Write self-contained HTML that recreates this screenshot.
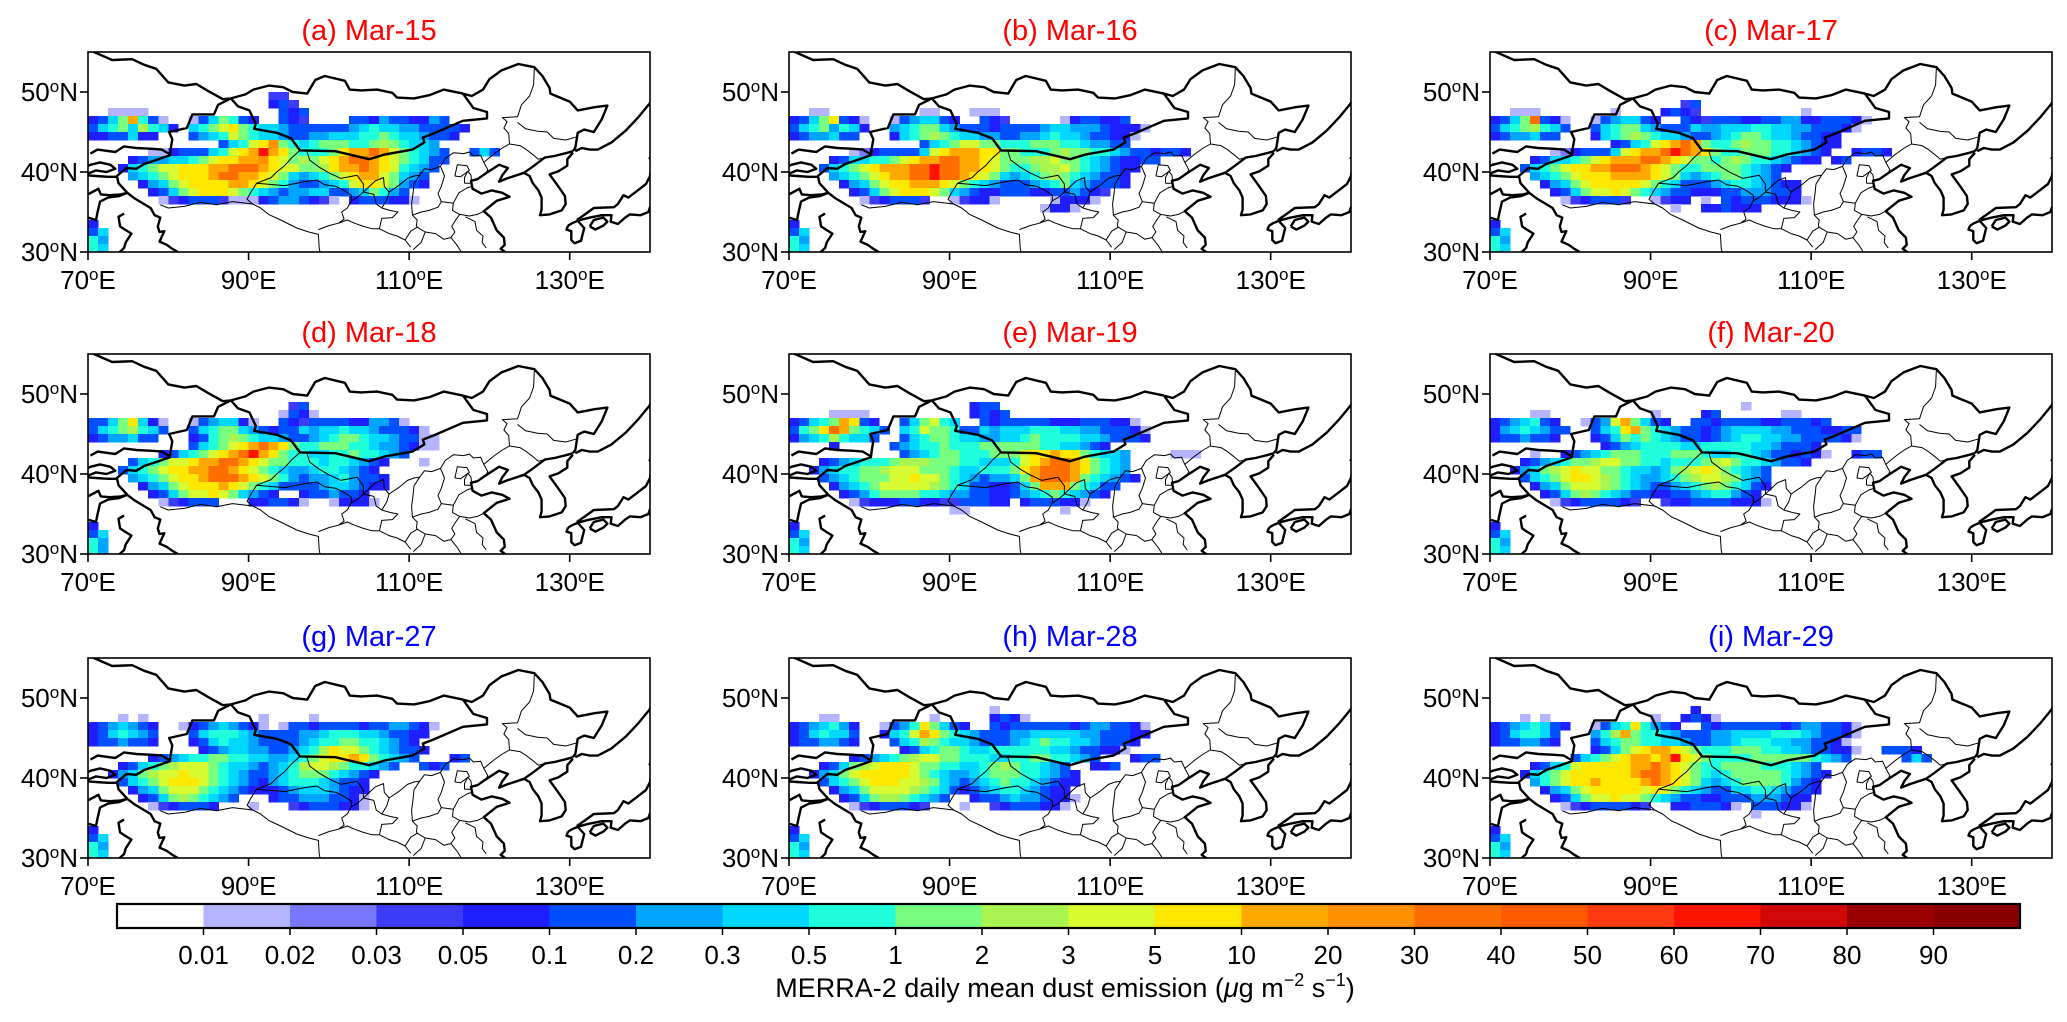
<!DOCTYPE html>
<html><head><meta charset="utf-8"><title>MERRA-2 dust emission</title>
<style>
html,body{margin:0;padding:0;background:#fff;}
svg{display:block;font-family:"Liberation Sans",sans-serif;}
</style></head>
<body>
<svg id="fig" xmlns="http://www.w3.org/2000/svg" width="2067" height="1022" viewBox="0 0 2067 1022">
<rect x="0" y="0" width="2067" height="1022" fill="#fff"/>
<g id="panels"></g>
<g id="cbar"></g>
<text x="1065" y="997" font-size="27" text-anchor="middle">MERRA-2 daily mean dust emission (<tspan font-style="italic">μ</tspan>g m<tspan dy="-11" font-size="18">−2</tspan><tspan dy="11"> s</tspan><tspan dy="-11" font-size="18">−1</tspan><tspan dy="11">)</tspan></text>
</svg>
<script>
// ---------- data ----------
const panelTitles = ["(a) Mar-15","(b) Mar-16","(c) Mar-17","(d) Mar-18","(e) Mar-19","(f) Mar-20","(g) Mar-27","(h) Mar-28","(i) Mar-29"];
const titleColors = ["#ff0000","#ff0000","#ff0000","#ff0000","#ff0000","#ff0000","#0000ff","#0000ff","#0000ff"];
const cbLabels = ["0.01","0.02","0.03","0.05","0.1","0.2","0.3","0.5","1","2","3","5","10","20","30","40","50","60","70","80","90"];
const levelColors = ["#ffffff","#b4b4ff","#7878ff","#3c3cf5","#1e1eff","#0050ff","#00a5ff","#00d8ff","#20ffdc","#78ff80","#aaf550","#d8fa30","#ffe800","#ffa800","#ff9000","#ff6e00","#ff5a00","#ff3a10","#ff1200","#d00808","#9a0000","#8a0000"];
const levelKeys = ".123456789abcdefghijkl";
const latTicks = [30,40,50];
const lonTicks = [70,90,110,130];
// grid: rows lat 50-49 downward (1 deg), columns lon from 70E (1.25 deg)
const gridA = ["..................33","..................453","..1111.............545","4579d851..1579854..543....5546554465","57897a874.789bc98776555555678776655554","4455744...5678b9877655667778898776554",".............578bce9878999889a98776","......11455578bcdidc98889cddfdb98765..575.","....45667789bccddecb9a9bcdffdcb98755","...4789bbcccddfffdcbb99acddfdcb8765","....6789bcccdffddcb976789bcddb9765",".....4679bccccddcb98655678bccb9654","......4579bcccb98765667755679865",".......134555311145665431.4555441","","","4","57","86","87"];
const gridB = ["","","..11.........11...111","4579c541..1567754..543.....1455445","57896874..67899765554555567766654441","4566755...4789a98776655667877655441",".............5789bb998889998876655","......12455557bcdddcc998889a998876554554","....4577889bcddffddcb999aab9987654455","...5789bcdddffiffddcb9889aab9876544","....6789bcddffiffdcb976789a9876554",".....4679bccdddcb98765556789765554","......4579bcccb97654455544556543",".......1345553..13441.....14441",".........................1441","","4","57","86","87"];
const gridC = ["","...................35","..111.......1....4543..........1","4579f541..1567754..5435554455664455541","5789a875..578997655576677788776655541","4566755...4789a98776556789987765544","............4578bcdfd9889a998876544","......1245557bcddfifdc988999887654..4554","....457789bcdddffdcb9989a98876544.45","...5789bccddfffdcb988999987654","....6789bcccddddcb97678998765",".....4679bcccccb987555678876544","......4579bbcb98765544455666554",".......1345553..1344.1.545554441","..................1..445444","","4","57","86","87"];
const gridD = ["","....................35","...................1541","5579c741..1567741..5435555446651","5789a875..578997654557677877655541","4566755...4589a98776556789987765511","..........5789bcdfdc988999887665411",".......45789bcdfidc9887788988765","....5789bbcddffdcb998887887654...1","...5789bccddffdcb987667887654","....6789bccdfffdcb986566786554",".....4679bcccdcb98755556776544","......4579bbcb97654..4556554",".......134555...445541..14441","","","4","57","86","86"];
const gridE = ["","..................455","....1111..........4545","45789dc54..579b87..5455555444555441","589cfd9875.78b9985576777888776655541","4678a8775..5789987766778988887765554","....4.....5678898889999998877654","...........567899888999bccdcc98776....111","...45678889aaa999887778bcdffdc9876","..4678899abbb9998778889cdfffdc9876","...5678999bbcbb987656679dfffd987654","....46789bbbbba9875544579ddd98755",".....456899998876655445678987654","......1344455443355544.4555441","................11.........1","","4","57","86","87"];
const gridF = ["",".........................1","....11..........1....45......11","4567854..156bd9754..55455554455545","46787655..578cd9876554567777665554455","4556554...457989876554567887766555541","...........4567888877888887765554","....1..456789998889998778876554541..455","...4567899abb998878889ab98876554","..4679abcbb99877679abcb98765","...5789bccba98766789abba9765","....4679bbba9876556789a98754",".....4579a98765544556788654","......134555543..34455554441","","","4","57","86","87"];
const gridG = ["","","...1.1...........1....1","4567654..145676541.1554555545566541","4578765...578887655556678887765544","4556554...45787765555678899887654","...........456776655678acbb9876554","......45678899887766789bccdc98765...45","...45789abbb987765678abba988765..545","..4679abbcbb98765567899987654","...5789bcccb9876546788876554","....4679bbb98765444567776544",".....4579a98765...4556665541","......1345554...1...34555441","","","4","57","86","87"];
const gridH = ["","....................1","...11.........1.....4541","4567864..1568c9754..5455555545665541","4578775..478bdc987655566777776655544","4556654...578a987765556789887765554","...........45789987788888877655441","......456789abb9988877889988765...455","...4579abcccb99887789a988765..445","..4679bcccccb9876678999887654","...5789bcccbba976567898876544","....4679bbbba987545678876544",".....4579aa98765..45567665441","......13455543...1..34555441","","","4","57","86","87"];
const gridI = ["","....................4","...1.1..........1..4541","45678754..1578c8654..5455555545665541","4578875...68ad98876555667777888765541","4556654...57899887765566788877665541","..........4579bcddcb98889998877655441..5554","........5789bcddcdicb988889999998765.....575","....4578bcccccddfdcb9889999888765","...4789bccccccdffdcb98789999987654","....689bccdccccdfdcb9767899998654",".....4679bcccccbcb987655778876554","......4579bbcbb98765544555666544",".......134555543..4455541.555441","..........................1","","4","57","86","87"];
const grids = [gridA,gridB,gridC,gridD,gridE,gridF,gridG,gridH,gridI];

// ---------- map geometry (lon,lat) ----------
const thickLines = [
 [[69,55.3],[70.5,55.1],[73,54],[75.5,54.1],[77,53.4],[78.5,52.9],[80,51.2],[82,50.8],[83.5,51],[85,50.1],[86.8,49.1],[87.8,49.2]],
 [[87.8,49.2],[89.6,49.7],[90.6,50.3],[92.5,50.8],[94.3,50.6],[95.5,50],[97.3,49.8],[98.3,51.5],[99.5,52],[102,51.4],[102.6,50.3],[104,50.2],[106,50.3],[107.9,49.9],[108.5,49.3],[110.6,49.2],[112.5,49.6],[114.3,50.3],[116.7,49.8]],
 [[116.7,49.8],[117.8,49.5],[119.2,50.3],[120,51.6],[121.5,52.7],[123.6,53.5],[125.6,53.1],[126.6,52],[127.5,50.5],[127.6,49.8],[130,48.8],[131,47.7],[133.1,48.1],[134.7,48.3],[134,46.6],[133,45],[131.8,45.3],[131,44.9],[130.7,43],[130.4,42.6]],
 [[130.4,42.6],[129.7,42.4],[128.1,42],[126.9,41.8],[125.3,40.6],[124.3,39.9]],
 [[87.8,49.2],[86.2,48.4],[85.7,47.2],[83,47.2],[82.3,45.5],[80.1,45],[80.5,44.1],[80.3,42.9],[80.2,42.1],[78.5,41.5],[77,41],[76,40.4],[74.8,40.5],[73.6,39.5],[73.8,38.6],[74.9,37.4],[75.8,36.7],[77.8,35.5],[78.3,34.6],[79,34.3],[78.7,33.2],[78.9,32.5],[79.5,32.6],[78.9,31.3],[79.8,30.9],[80.5,30.4],[81.2,30]],
 [[87.8,49.2],[88.7,48.2],[90.1,47.7],[90.9,46],[90.7,45.4],[93.5,44.9],[95.3,44.2],[96.4,42.7],[100.8,42.6],[105,41.6],[107,42.2],[110.4,42.8],[111.9,43.7],[111.7,44.3],[113,44.8],[116.7,46.4],[119.7,46.7],[119.7,47.5],[118,48],[116.7,49.8]],
 [[70.3,42.3],[71.2,42.8],[73.4,42.5],[74.5,43.2],[76,43],[78,42.9],[79.2,42.8],[80.2,42.2]],
 [[69,40.3],[70.3,40.9],[71.5,41.2],[72.8,40.9],[73.4,40.4],[72.3,40],[71,40.2],[70.5,40],[69.5,39.6],[71,39.5],[72.5,39.4],[73.6,39.4]],
 [[69,37.2],[70,37.2],[71.3,37.9],[71.6,37.2],[72.7,37.1],[74.1,37.2],[74.9,37.4]],
 [[69,34],[70,34.3],[71,34],[71.2,35],[71.5,36.3],[72.5,36.8],[73.9,37],[74.9,37.4]],
 [[74.5,34.8],[73.8,34.4],[74,33.2],[74.6,32.8],[75.4,32.3],[74.7,31.2],[74.5,30.5],[73.4,29.5]],
 [[124.3,39.9],[125,39.5],[125.4,38.6],[126.1,37.7],[126.5,36.8],[126.5,35.3],[126.3,34.6],[127.5,34.7],[129,35.2],[129.5,36],[129.4,37],[128.5,38.3],[127.5,39.7],[128.6,40.1],[129.7,40.8],[129.7,41.6],[130.4,42.4]],
 [[124.3,39.9],[122.2,39.2],[121.2,38.8],[121.6,39.6],[122.3,40.5],[121.2,40.9],[119.5,39.8],[118.5,39.1],[117.7,38.9],[117.9,37.9],[119,37.3],[120.3,37.7],[121.6,37.4],[122.5,36.9],[120.9,36.4],[119.3,35.1],[120.2,34.3],[120.9,32.7],[121.8,31.8],[121.9,30.9],[121.4,30.4],[122.1,29.9],[121.7,29]],
 [[130.7,42.6],[131.5,43],[132.5,42.8],[133.5,42.8],[135.2,43.7],[137,45.2],[138.5,46.8],[139.9,48.5],[140.5,49.5]],
 [[130.9,34],[131.9,34.7],[133,35.5],[135.5,35.6],[136,36],[136.7,37.1],[137.3,36.8],[138.6,37.8],[139.5,38.5],[140,39.5],[140.2,41]],
 [[130.9,33.9],[132.5,34.3],[134,34.6],[135.2,34.6],[135.1,33.8],[136,33.5],[136.9,34.3],[137.5,34.7],[138.8,34.6],[139.8,35],[140,35.6],[140.8,35.7]],
 [[129.8,33.3],[130.3,33.6],[131,33.9],[131.8,33],[131.4,31.4],[130.6,31.1],[130.2,31.5],[130.2,32.6],[129.6,32.8],[129.8,33.3]],
 [[132.5,33.2],[133,34],[134.2,34.3],[134.7,33.8],[134.2,33.3],[133.2,32.8],[132.5,33.2]],
 [[139.9,41.6],[140.3,42.3],[140.8,42.6]]
];
const thinLines = [
 [[96.4,42.7],[95.3,41.7],[94.5,40.8],[93.5,40],[92.8,39.3],[91,38.6],[90.3,37.5],[89.8,36.6],[90.5,36]],
 [[90.5,36],[88,36.3],[86,35.9],[84,36.2],[82,35.7],[80,35.5],[79,35.9]],
 [[91,38.6],[94.5,38.3],[97,38.8],[98.5,39],[99.5,38.4],[100.9,38.2],[101.9,37.7],[102.8,37.1],[102.8,36.4],[102.3,35.5],[101.6,35],[101.9,34.1],[101.2,33.6]],
 [[90.5,36],[91.5,35.5],[92.5,34.7],[94,34],[96,33],[97.5,32.5],[98.7,32.2],[98.8,30.5],[99,29.5]],
 [[98.7,32.8],[100,33.3],[101.2,33.6],[102.3,34],[103.2,33.6],[104.3,33.2],[105.4,32.9],[106.3,32.9],[107.5,32.3],[108.5,32],[109.5,31.5],[110.2,30.6]],
 [[97.2,42.8],[97.6,41.5],[98.8,40.6],[100,39.9],[101.5,39.2],[103.5,39.6],[104.3,38.5],[104.3,37.5],[105.8,38.9],[106.8,39.3],[106.9,38.2],[107.5,37.5],[108.7,38.3],[109.8,39.2],[110.6,39.5],[111.3,39.6],[111.9,40.4],[112.8,40.3],[113.9,40.7],[114.5,41.7],[115.5,42.4],[116.8,42.3],[117.5,42.5],[118,42],[118.9,42.1],[119.3,41.2],[120.5,42.2],[121.6,43],[122.5,43.5],[122.4,44.8],[121.8,45.5],[122.2,46.3],[121.6,46.8],[123.5,46.9],[124,48.4],[125,49.5],[125.5,50.9],[125.6,53.1]],
 [[104.3,37.5],[105.6,37.2],[105.9,36],[106.6,35.5],[107.6,35.2],[108.6,35],[107.9,34.3],[106.6,34.2],[106.3,32.9]],
 [[107.5,37.5],[107.2,36.5],[106.6,35.5]],
 [[111.3,39.6],[110.6,38.5],[110.5,37.5],[110.3,36],[110.4,34.6],[111,34],[110.9,33.3],[111,33.1],[110.2,32.6],[109.5,31.5]],
 [[110.4,34.6],[111.5,35],[112.5,35.2],[113.6,35.6],[114,36.3],[113.6,37.3],[114,38.2],[114.4,39.5],[113.9,40.7]],
 [[114,36.3],[115.5,36.1],[116.2,37.4],[117.2,38],[117.8,38.2]],
 [[115.5,36.1],[115.4,35.2],[116.3,34.7],[117.5,34.5],[118.5,34.7],[119.3,35.1]],
 [[116.3,34.7],[115.8,34],[115.3,33.2],[115.7,32.5],[115.2,31.8],[114.3,31.6],[113.3,32.3],[112,32.5],[111,33.1]],
 [[117,34.4],[118.2,33.8],[118.4,32.7],[119.2,32],[119.1,31.2],[119.6,30.5]],
 [[115.2,31.8],[116,30.8],[116.5,30]],
 [[115.7,39.5],[116.4,39.4],[117.5,40.2],[117.2,40.8],[116,40.9],[115.7,39.5]],
 [[116.9,38.6],[117.8,38.6],[117.7,39.6],[117.3,40.1],[116.9,39.3],[116.9,38.6]],
 [[119.3,41.2],[119.8,40.3],[119.6,39.9]],
 [[122.5,43.5],[123.8,43.3],[124.6,42.8],[125.5,42.1],[126.1,41.6],[126.9,41.8]],
 [[123.5,46.2],[124.5,45.4],[126,45.1],[127.2,45],[128,44.2],[129.5,44],[130.9,44.4]],
 [[104.3,37.5],[103.5,36.8],[102.8,36.4]],
 [[112,32.5],[111.5,31.2],[110.5,30.3]]
];

// ---------- layout ----------
const SVGNS = "http://www.w3.org/2000/svg";
const panelX = [88,789,1490], panelY = [52,354,658];
const PW = 562, PH = 200, DX = PW/70, DY = PH/25;
function mk(tag, attrs, parent){ const e=document.createElementNS(SVGNS,tag); for(const k in attrs) e.setAttribute(k,attrs[k]); parent.appendChild(e); return e; }
function lonX(px,lon){ return px+(lon-70)*DX; }
function latY(py,lat){ return py+(55-lat)*DY; }

const root = document.getElementById("panels");
const letters = "abcdefghi";
for(let k=0;k<9;k++){
  const px = panelX[k%3], py = panelY[Math.floor(k/3)];
  const g = mk("g",{},root);
  
  
  const cp = mk("clipPath",{id:"clip"+k},g);
  mk("rect",{x:px,y:py,width:PW,height:PH},cp);
  const inner = mk("g",{"clip-path":"url(#clip"+k+")"},g);
  const cells = mk("g",{"shape-rendering":"crispEdges"},inner);
  
  
  const grid = grids[k];
  for(let r=0;r<grid.length;r++){
    const row = grid[r];
    for(let c=0;c<row.length;c++){
      const lv = levelKeys.indexOf(row[c]);
      if(lv<=0) continue;
      const lon0 = 70+c*1.25, lat1 = 50-r;
      const x0 = lonX(px,lon0), x1 = lonX(px,lon0+1.25);
      const y0 = latY(py,lat1), y1 = latY(py,lat1-1);
      const cell = mk("rect",{x:x0.toFixed(2),y:y0.toFixed(2),width:(x1-x0+0.4).toFixed(2),height:(y1-y0+0.4).toFixed(2),fill:levelColors[lv]},cells);
      
      
    }
  }
  const toPts = (line)=>line.map(p=>lonX(px,p[0]).toFixed(1)+","+latY(py,p[1]).toFixed(1)).join(" ");
  thinLines.forEach(l=>{
    const pl = mk("polyline",{points:toPts(l),fill:"none",stroke:"#000","stroke-width":1,"stroke-linejoin":"round"},inner);
    
    
  });
  thickLines.forEach(l=>{
    const pl = mk("polyline",{points:toPts(l),fill:"none",stroke:"#000","stroke-width":2.4,"stroke-linejoin":"round"},inner);
    
    
  });
  const fr = mk("rect",{x:px,y:py,width:PW,height:PH,fill:"none",stroke:"#000","stroke-width":1.6},g);
  
  
  const t = mk("text",{x:px+PW/2,y:py-12,"font-size":29,"text-anchor":"middle",fill:titleColors[k]},g);
  t.textContent = panelTitles[k];
  
  
  latTicks.forEach(lat=>{
    const y = latY(py,lat);
    const tk = mk("line",{x1:px-8,x2:px,y1:y,y2:y,stroke:"#000","stroke-width":1.6},g);
    
    
    const lb = mk("text",{x:px-10,y:y+9,"font-size":26,"text-anchor":"end"},g);
    lb.innerHTML = lat+'<tspan font-size="17" dy="-9">o</tspan><tspan dy="9">N</tspan>';
    
    
  });
  lonTicks.forEach(lon=>{
    const x = lonX(px,lon);
    const tk = mk("line",{x1:x,x2:x,y1:py+PH,y2:py+PH+8,stroke:"#000","stroke-width":1.6},g);
    
    
    const lb = mk("text",{x:x,y:py+PH+37,"font-size":26,"text-anchor":"middle"},g);
    lb.innerHTML = lon+'<tspan font-size="17" dy="-9">o</tspan><tspan dy="9">E</tspan>';
    
    
  });
}

// ---------- colorbar ----------
const cb = document.getElementById("cbar");
const CBX0 = 117, CBX1 = 2020, CBY = 904, CBH = 24;
const nSeg = levelColors.length;
const segW = (CBX1-CBX0)/nSeg;
levelColors.forEach((col,i)=>{
  const s = mk("rect",{x:(CBX0+i*segW).toFixed(2),y:CBY,width:(segW+0.5).toFixed(2),height:CBH,fill:col,"shape-rendering":"crispEdges"},cb);
  
  
});
const cbf = mk("rect",{x:CBX0,y:CBY,width:CBX1-CBX0,height:CBH,fill:"none",stroke:"#000","stroke-width":2.2},cb);


cbLabels.forEach((lab,i)=>{
  const x = CBX0+(i+1)*segW;
  const tk = mk("line",{x1:x,x2:x,y1:CBY+CBH,y2:CBY+CBH+7,stroke:"#000","stroke-width":1.5},cb);
  
  
  const t = mk("text",{x:x,y:964,"font-size":26,"text-anchor":"middle"},cb);
  t.textContent = lab;
  
  
});
</script>
</body></html>
